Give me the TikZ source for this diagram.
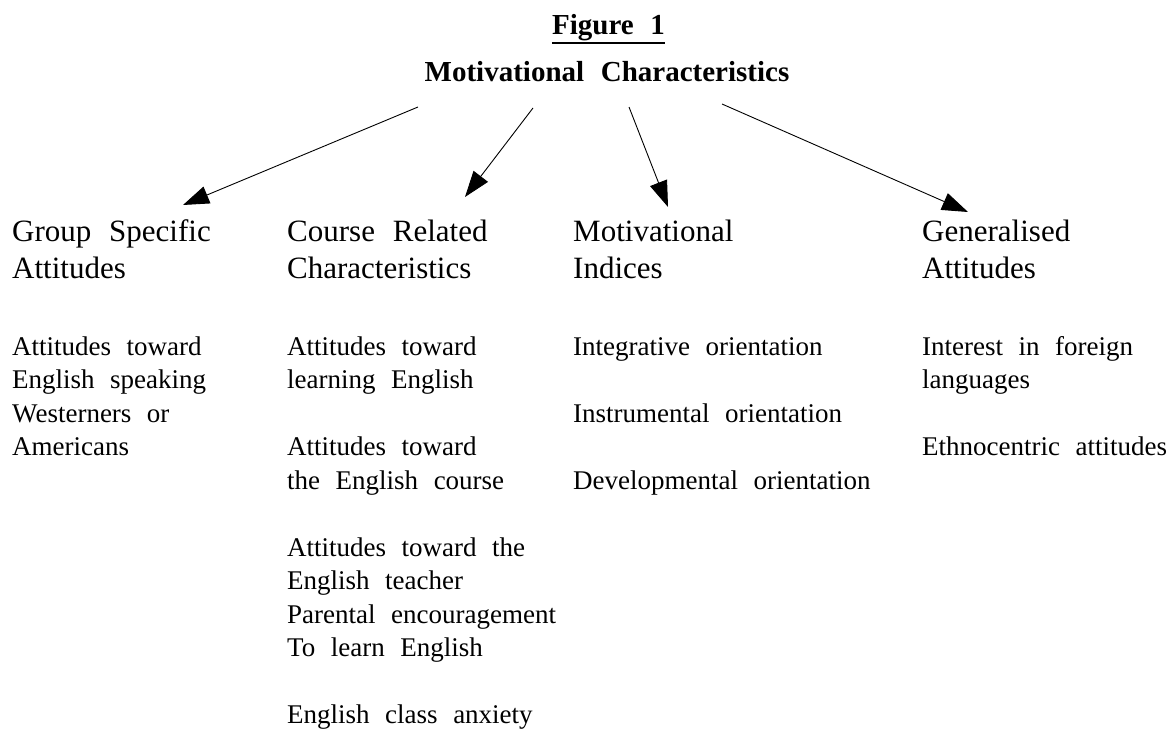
\documentclass[tikz,border=0pt]{standalone}
\usepackage{fontspec}
\setmainfont{Liberation Serif}[WordSpace=2.3]
\usetikzlibrary{arrows.meta}
% left-aligned lines whose baseline is that of the first line
\newcommand{\colstack}[1]{\begin{tabular}[t]{@{}l@{}}#1\end{tabular}}
\begin{document}
\begin{tikzpicture}[x=1bp,y=-1bp,
  titletext/.style={inner sep=0pt, anchor=base, font=\fontsize{29bp}{34bp}\selectfont\bfseries},
  headtext/.style={inner sep=0pt, anchor=base west, font=\fontsize{31bp}{37bp}\selectfont},
  itemtext/.style={inner sep=0pt, anchor=base west, font=\fontsize{27bp}{33.5bp}\selectfont},
  link/.style={line width=0.9bp, -{Triangle[length=26bp,width=18bp]}}]
% page
\fill[white] (0,0) rectangle (1171,731);
\useasboundingbox (0,0) rectangle (1171,731);

% titles
\node[titletext] (fig) at (608.5,35) {Figure 1};
\draw[line width=1.3bp] ([yshift=-8bp]fig.base west) -- ([yshift=-8bp]fig.base east);
\node[titletext] (main) at (607,82) {Motivational Characteristics};

% column headings
\node[headtext] (h1) at (12,241) {\colstack{Group Specific\\Attitudes}};
\node[headtext] (h2) at (287,241) {\colstack{Course Related\\Characteristics}};
\node[headtext] (h3) at (573,241) {\colstack{Motivational\\Indices}};
\node[headtext] (h4) at (922,241) {\colstack{Generalised\\Attitudes}};

% arrows from the main title to the headings
\coordinate (s1) at (418,107);
\coordinate (t1) at (183,205);
\coordinate (s2) at (533,108);
\coordinate (t2) at (465,197);
\coordinate (s3) at (629,107);
\coordinate (t3) at (668,207);
\coordinate (s4) at (722,104);
\coordinate (t4) at (968,212);
\draw[link] (s1) -- (t1);
\draw[link] (s2) -- (t2);
\draw[link] (s3) -- (t3);
\draw[link] (s4) -- (t4);

% group specific attitudes
\node[itemtext] (a1) at (12,355) {\colstack{Attitudes toward\\English speaking\\Westerners or\\Americans}};

% course related characteristics
\node[itemtext] (b1) at (287,355) {\colstack{Attitudes toward\\learning English}};
\node[itemtext] (b2) at (287,455.5) {\colstack{Attitudes toward\\the English course}};
\node[itemtext] (b3) at (287,556) {\colstack{Attitudes toward the\\English teacher\\Parental encouragement\\To learn English}};
\node[itemtext] (b4) at (287,723) {English class anxiety};

% motivational indices
\node[itemtext] (c1) at (573,355) {Integrative orientation};
\node[itemtext] (c2) at (573,422) {Instrumental orientation};
\node[itemtext] (c3) at (573,489) {Developmental orientation};

% generalised attitudes
\node[itemtext] (d1) at (922,355) {\colstack{Interest in foreign\\languages}};
\node[itemtext] (d2) at (922,455.5) {Ethnocentric attitudes};
\end{tikzpicture}
\end{document}
